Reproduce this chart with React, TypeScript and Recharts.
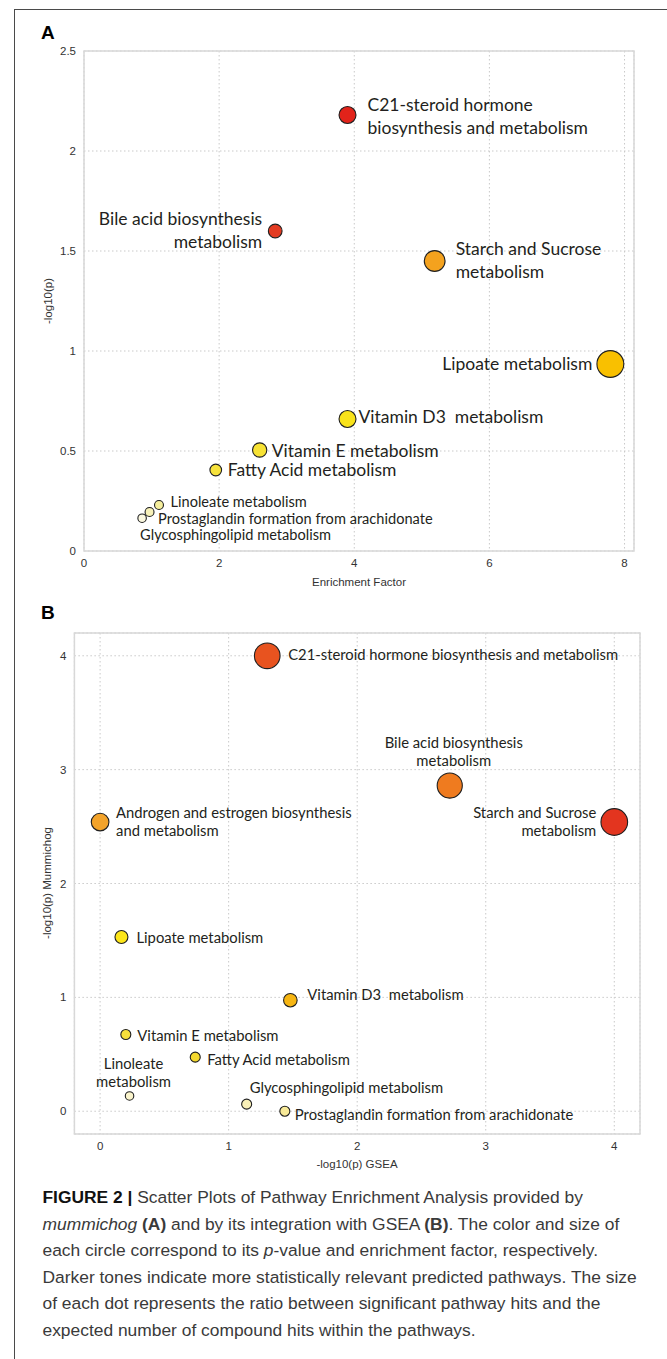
import React from "react";
import {
  ScatterChart,
  Scatter,
  XAxis,
  YAxis,
  ZAxis,
  CartesianGrid,
  ReferenceArea,
  Label,
} from "recharts";

// Panel A: mummichog
const aPathways = [
  "C21-steroid hormone\nbiosynthesis and metabolism",
  "Bile acid biosynthesis\nmetabolism",
  "Starch and Sucrose\nmetabolism",
  "Lipoate metabolism",
  "Vitamin D3  metabolism",
  "Vitamin E metabolism",
  "Fatty Acid metabolism",
  "Linoleate metabolism",
  "Prostaglandin formation from arachidonate",
  "Glycosphingolipid metabolism",
];
const aEnrichment = [3.9, 2.83, 5.19, 7.79, 3.9, 2.6, 1.95, 1.11, 0.97, 0.86];
const aLogP = [2.18, 1.6, 1.45, 0.935, 0.66, 0.505, 0.405, 0.23, 0.195, 0.164];
const aHitRatio = [7.2, 4.7, 10.8, 18, 7.2, 5.1, 3.4, 2.0, 2.0, 1.8];
const aXTicks = [0, 2, 4, 6, 8];
const aYTicks = [0, 0.5, 1, 1.5, 2, 2.5];

// Panel B: mummichog + GSEA
const bPathways = [
  "C21-steroid hormone biosynthesis and metabolism",
  "Bile acid biosynthesis\nmetabolism",
  "Starch and Sucrose\nmetabolism",
  "Androgen and estrogen biosynthesis\nand metabolism",
  "Lipoate metabolism",
  "Vitamin D3  metabolism",
  "Vitamin E metabolism",
  "Fatty Acid metabolism",
  "Linoleate\nmetabolism",
  "Glycosphingolipid metabolism",
  "Prostaglandin formation from arachidonate",
];
const bGsea = [1.3, 2.72, 4.0, 0.0, 0.166, 1.48, 0.2, 0.74, 0.229, 1.14, 1.437];
const bMummichog = [4.0, 2.86, 2.54, 2.54, 1.53, 0.975, 0.674, 0.475, 0.134, 0.062, 0.0];
const bHitRatio = [16.5, 15.8, 17.8, 7.8, 4.2, 4.6, 2.5, 2.5, 1.8, 2.5, 2.5];
const bTicks = [0, 1, 2, 3, 4];

// tones (darker = more significant)
const aTones = [
  "#e2231a", "#e33b22", "#f4a21e", "#f9c000", "#f9e31a",
  "#f7e234", "#f6e23c", "#f5ee9c", "#f7f1b8", "#fbf8e0",
];
const bTones = [
  "#e8531f", "#ef7b1f", "#e3351f", "#f3a32a", "#fde61a", "#f6b512",
  "#f6df3c", "#f5d92f", "#faf4cc", "#f9f0b8", "#f8ea98",
];

// label placement relative to each dot
type Place = { dx: number; dy: number; anchor: "start" | "end" | "middle"; big?: boolean };
const aPlaces: Place[] = [
  { dx: 20, dy: -11, anchor: "start", big: true },
  { dx: -13, dy: -13, anchor: "end", big: true },
  { dx: 21, dy: -13, anchor: "start", big: true },
  { dx: -18, dy: -1, anchor: "end", big: true },
  { dx: 11, dy: -3, anchor: "start", big: true },
  { dx: 12, dy: -0.5, anchor: "start", big: true },
  { dx: 12, dy: -1.5, anchor: "start", big: true },
  { dx: 11.5, dy: -4, anchor: "start" },
  { dx: 8.5, dy: 6, anchor: "start" },
  { dx: -2, dy: 15.5, anchor: "start" },
];
const bPlaces: Place[] = [
  { dx: 21, dy: -1.5, anchor: "start" },
  { dx: 4, dy: -44, anchor: "middle" },
  { dx: -18, dy: -10, anchor: "end" },
  { dx: 16, dy: -10, anchor: "start" },
  { dx: 15, dy: 0, anchor: "start" },
  { dx: 17, dy: -6, anchor: "start" },
  { dx: 11.5, dy: 0.5, anchor: "start" },
  { dx: 12, dy: 2, anchor: "start" },
  { dx: 4, dy: -33, anchor: "middle" },
  { dx: 3, dy: -17, anchor: "start" },
  { dx: 10, dy: 3, anchor: "start" },
];

const labelFont = "Lato, 'Open Sans', sans-serif";
const axisFont = "'Liberation Sans', Arial, sans-serif";

const aData = aPathways.map((name, i) => ({
  i, name, x: aEnrichment[i], y: aLogP[i], z: aHitRatio[i],
}));
const bData = bPathways.map((name, i) => ({
  i, name, x: bGsea[i], y: bMummichog[i], z: bHitRatio[i],
}));

function makeShape(tones: string[], places: Place[], bigSize: number, smallSize: number, bigGap: number, smallGap: number) {
  return (props: any) => {
    const { cx, cy, size, payload } = props;
    const r = Math.sqrt((size ?? 50) / Math.PI);
    const p = places[payload.i];
    const fs = p.big ? bigSize : smallSize;
    const gap = p.big ? bigGap : smallGap;
    const lines = String(payload.name).split("\n");
    return (
      <g>
        <circle cx={cx} cy={cy} r={r} fill={tones[payload.i]} stroke="#1f1f1f" strokeWidth={1.1} />
        <text
          x={cx + p.dx}
          y={cy + p.dy}
          textAnchor={p.anchor}
          dominantBaseline="central"
          fontFamily={labelFont}
          fontSize={fs}
          fill="#231f20"
          style={{ whiteSpace: "pre" }}
        >
          {lines.map((ln, k) => (
            <tspan key={k} x={cx + p.dx} dy={k === 0 ? 0 : gap}>
              {ln}
            </tspan>
          ))}
        </text>
      </g>
    );
  };
}

const tickStyle = { fontFamily: axisFont, fontSize: 11.5, fill: "#333" };
const gridColor = "#c9c9c9";
const borderColor = "#d8d8d8";

function AxisTitle({ x, y, text, vertical }: { x: number; y: number; text: string; vertical?: boolean }) {
  return (
    <text
      x={x}
      y={y}
      textAnchor="middle"
      dominantBaseline="central"
      fontFamily={axisFont}
      fontSize={11.5}
      fill="#333"
      transform={vertical ? `rotate(-90 ${x} ${y})` : undefined}
    >
      {text}
    </text>
  );
}

function PanelA() {
  return (
    <ScatterChart
      width={667}
      height={600}
      margin={{ top: 51, right: 33, bottom: 19, left: 44 }}
    >
      <CartesianGrid stroke={gridColor} strokeDasharray="1.5 2.5" />
      <ReferenceArea x1={0} x2={8.14} y1={0} y2={2.5} fill="none" stroke={borderColor} strokeWidth={1.5} />
      <XAxis
        type="number"
        dataKey="x"
        domain={[0, 8.14]}
        ticks={aXTicks}
        interval={0}
        axisLine={false}
        tickLine={false}
        height={30}
        tick={tickStyle}
      >
        <Label content={() => <AxisTitle x={359} y={582} text="Enrichment Factor" />} />
      </XAxis>
      <YAxis
        type="number"
        dataKey="y"
        domain={[0, 2.5]}
        ticks={aYTicks}
        interval={0}
        axisLine={false}
        tickLine={false}
        width={40}
        tick={tickStyle}
      >
        <Label content={() => <AxisTitle x={47.7} y={301} text="-log10(p)" vertical />} />
      </YAxis>
      <ZAxis type="number" dataKey="z" domain={[0, 20]} range={[0, 200 * Math.PI]} />
      <Scatter
        data={aData}
        isAnimationActive={false}
        shape={makeShape(aTones, aPlaces, 17.5, 14.6, 22.5, 18)}
      />
    </ScatterChart>
  );
}

function PanelB() {
  return (
    <ScatterChart
      width={667}
      height={600}
      margin={{ top: 33, right: 27, bottom: 36, left: 34.4 }}
    >
      <CartesianGrid stroke={gridColor} strokeDasharray="1.5 2.5" />
      <ReferenceArea x1={-0.2} x2={4.2} y1={-0.2} y2={4.2} fill="none" stroke={borderColor} strokeWidth={1.5} />
      <XAxis
        type="number"
        dataKey="x"
        domain={[-0.2, 4.2]}
        ticks={bTicks}
        interval={0}
        axisLine={false}
        tickLine={false}
        height={30}
        tick={tickStyle}
      >
        <Label content={() => <AxisTitle x={357} y={564} text="-log10(p) GSEA" />} />
      </XAxis>
      <YAxis
        type="number"
        dataKey="y"
        domain={[-0.2, 4.2]}
        ticks={bTicks}
        interval={0}
        axisLine={false}
        tickLine={false}
        width={40}
        tick={tickStyle}
      >
        <Label content={() => <AxisTitle x={46.8} y={283} text="-log10(p) Mummichog" vertical />} />
      </YAxis>
      <ZAxis type="number" dataKey="z" domain={[0, 20]} range={[0, 200 * Math.PI]} />
      <Scatter
        data={bData}
        isAnimationActive={false}
        shape={makeShape(bTones, bPlaces, 15, 14.8, 18.3, 18.3)}
      />
    </ScatterChart>
  );
}

const panelLetter: React.CSSProperties = {
  position: "absolute",
  left: 41,
  fontFamily: axisFont,
  fontWeight: "bold",
  fontSize: 19,
  lineHeight: 1,
  color: "#000",
};

export default function App() {
  return (
    <div style={{ position: "absolute", left: 0, top: 0, width: 667, height: 1359, background: "#fff", overflow: "hidden" }}>
      {/* frame */}
      <div style={{ position: "absolute", left: 14, top: 9, right: -2, bottom: -2, borderLeft: "1px solid #4a4a4a", borderTop: "1px solid #4a4a4a" }} />

      <div style={{ position: "absolute", left: 0, top: 0 }}>
        <PanelA />
      </div>
      <div style={{ position: "absolute", left: 0, top: 600 }}>
        <PanelB />
      </div>

      <div style={{ ...panelLetter, top: 23 }}>A</div>
      <div style={{ ...panelLetter, top: 603 }}>B</div>

      {/* caption */}
      <div
        style={{
          position: "absolute",
          left: 42.5,
          top: 1184,
          fontFamily: axisFont,
          fontSize: 17.4,
          lineHeight: "26.5px",
          color: "#3a3a3a",
          whiteSpace: "nowrap",
        }}
      >
        <b style={{ color: "#111" }}>FIGURE 2 |</b> Scatter Plots of Pathway Enrichment Analysis provided by
        <br />
        <i>mummichog</i> <b>(A)</b> and by its integration with GSEA <b>(B)</b>. The color and size of
        <br />
        each circle correspond to its <i>p</i>-value and enrichment factor, respectively.
        <br />
        Darker tones indicate more statistically relevant predicted pathways. The size
        <br />
        of each dot represents the ratio between significant pathway hits and the
        <br />
        expected number of compound hits within the pathways.
      </div>
    </div>
  );
}
